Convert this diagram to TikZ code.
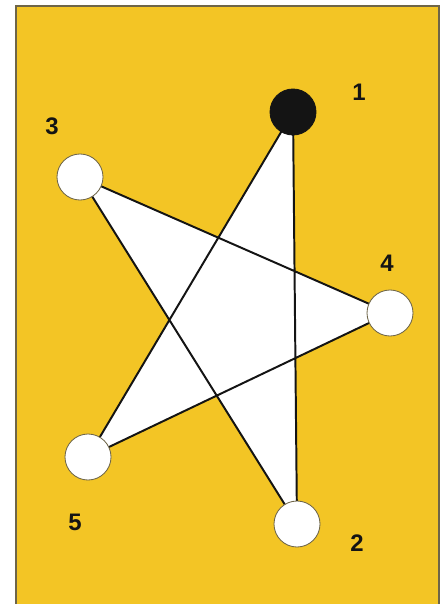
\documentclass[tikz,border=0pt]{standalone}
\usepackage{fontspec}
\setmainfont{Liberation Sans}
\usepackage{xcolor}
\usepackage{tikz}
\usetikzlibrary{backgrounds}
\definecolor{gold}{HTML}{F3C525}
\definecolor{rim}{HTML}{6E6548}
\definecolor{ink}{HTML}{141414}
\tikzset{pt/.style={circle,draw=rim,line width=0.6pt,fill=white,minimum size=1.15cm,inner sep=0pt},
  hub/.style={pt,draw=ink,fill=ink},
  num/.style={font=\fontsize{17}{20}\selectfont\bfseries,text=ink,inner sep=0pt}}

\begin{document}
\begin{tikzpicture}[x=0.025cm,y=-0.025cm]
\useasboundingbox (0,0) rectangle (447,604);
% points of the star
\node[hub] (v1) at (293,112) {};
\node[pt] (v2) at (297,524) {};
\node[pt] (v3) at (80,177) {};
\node[pt] (v4) at (390,313) {};
\node[pt] (v5) at (88,457) {};
% numbers
\node[num] (l1) at (359,92) {1};
\node[num] (l2) at (357,543) {2};
\node[num] (l3) at (52,126) {3};
\node[num] (l4) at (387,263) {4};
\node[num] (l5) at (75,522) {5};
\begin{scope}[on background layer]
\fill[gold] (16,6) rectangle (439,604);
\draw[rim,line width=1.2pt] (16,604) -- (16,6) -- (439,6) -- (439,604);
\draw[ink,line width=1.4pt,fill=white,line join=round]
  (v1.center) -- (v5.center) -- (v4.center) -- (v3.center) -- (v2.center) -- cycle;
\end{scope}
\end{tikzpicture}
\end{document}
